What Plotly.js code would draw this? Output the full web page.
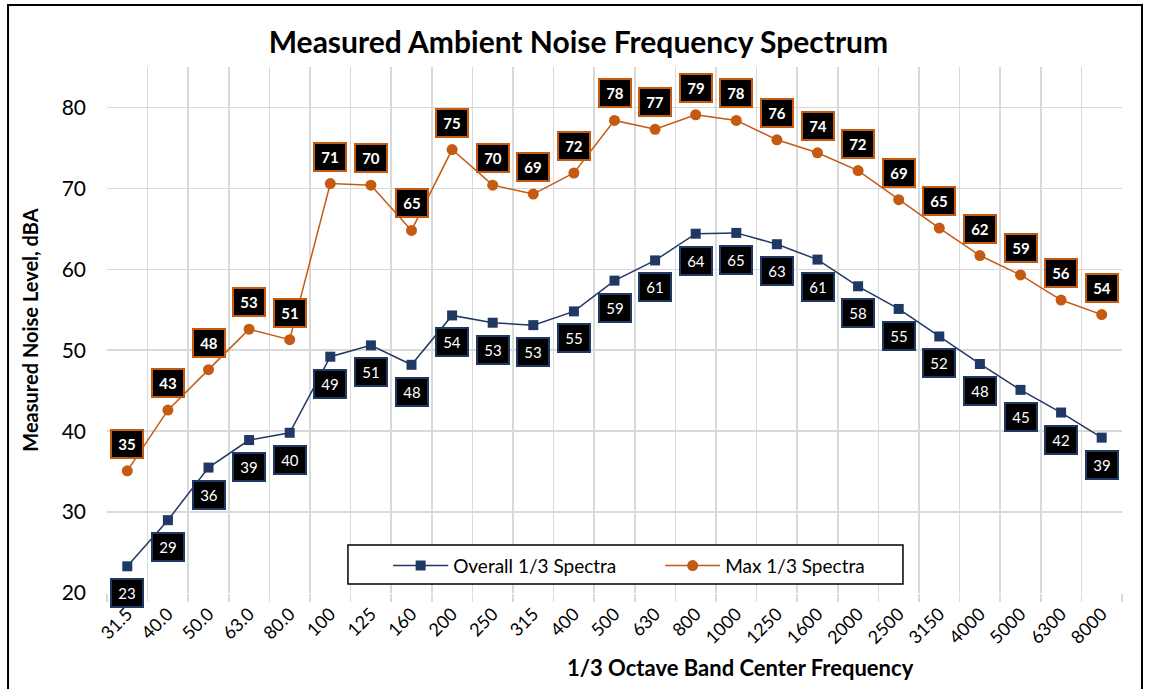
<!DOCTYPE html>
<html>
<head>
<meta charset="utf-8">
<script src="https://cdn.plot.ly/plotly-3.0.1.min.js"></script>
<style>html,body{margin:0;padding:0;background:#fff;}#chart{width:1150px;height:689px;}</style>
</head>
<body>
<div id="chart"></div>
<script>
const frequencies = ["31.5","40.0","50.0","63.0","80.0","100","125","160","200","250","315","400","500","630","800","1000","1250","1600","2000","2500","3150","4000","5000","6300","8000"];
const overallSpectra = [23.3,29.0,35.5,38.9,39.8,49.2,50.6,48.2,54.3,53.4,53.1,54.8,58.6,61.1,64.4,64.5,63.1,61.2,57.9,55.1,51.7,48.3,45.1,42.3,39.2];
const maxSpectra = [35.1,42.6,47.6,52.6,51.3,70.6,70.4,64.8,74.8,70.4,69.3,71.9,78.4,77.3,79.1,78.4,76.0,74.4,72.2,68.6,65.1,61.7,59.3,56.2,54.4];
const seriesNames = ["Overall 1/3 Spectra","Max 1/3 Spectra"];

const navy = "#203864";
const orange = "#C55A11";
const fontFam = "Lato, 'Open Sans', sans-serif";

const traces = [
  {x: frequencies, y: overallSpectra, name: seriesNames[0], type: "scatter", mode: "lines+markers",
   line: {color: navy, width: 1.5}, marker: {symbol: "square", size: 10, color: navy}},
  {x: frequencies, y: maxSpectra, name: seriesNames[1], type: "scatter", mode: "lines+markers",
   line: {color: orange, width: 1.5}, marker: {symbol: "circle", size: 11, color: orange}}
];

const annotations = [];
frequencies.forEach((f, i) => {
  annotations.push({x: i, y: overallSpectra[i], xref: "x", yref: "y", text: String(Math.round(overallSpectra[i])),
    showarrow: false, yshift: -27, bgcolor: "#000", bordercolor: navy, borderwidth: 2,
    width: 28, height: 24, font: {family: fontFam, size: 15, color: "#fff"}});
  annotations.push({x: i, y: maxSpectra[i], xref: "x", yref: "y", text: "<b>" + Math.round(maxSpectra[i]) + "</b>",
    showarrow: false, yshift: 27, bgcolor: "#000", bordercolor: orange, borderwidth: 2,
    width: 28, height: 24, font: {family: fontFam, size: 15, color: "#fff"}});
});
annotations.push({xref: "paper", yref: "paper", x: 0.624, y: -0.142, yanchor: "middle", xanchor: "center",
  text: "<b>1/3 Octave Band Center Frequency</b>", showarrow: false, font: {family: fontFam, size: 22, color: "#000"}});

const layout = {
  width: 1150, height: 689,
  margin: {l: 107, r: 28, t: 67, b: 96},
  paper_bgcolor: "#fff", plot_bgcolor: "#fff",
  font: {family: fontFam, color: "#000"},
  title: {text: "<b>Measured Ambient Noise Frequency Spectrum</b>", x: 0.503, xanchor: "center", y: 0.938, yanchor: "middle",
    font: {family: fontFam, size: 30, color: "#000"}},
  xaxis: {type: "category", range: [-0.5, 24.5], tickson: "boundaries", ticks: "outside", ticklen: 8, tickcolor: "#d9d9d9", tickwidth: 1.5,
    showgrid: true, gridcolor: "#d9d9d9", gridwidth: 1.5, tickangle: -45, tickfont: {family: fontFam, size: 18, color: "#000"},
    ticklabelstandoff: 6, showline: false, zeroline: false, fixedrange: true},
  yaxis: {range: [20, 85], dtick: 10, tick0: 0, showgrid: true, gridcolor: "#d9d9d9", gridwidth: 1.5,
    tickfont: {family: fontFam, size: 21, color: "#000"}, ticks: "", ticklabelstandoff: 20, zeroline: false, showline: false,
    title: {text: "<b>Measured Noise Level, dBA</b>", font: {family: fontFam, size: 20, color: "#000"}, standoff: 17}},
  legend: {orientation: "h", x: 0.277, y: 0.088, xanchor: "left", yanchor: "top", bgcolor: "rgba(0,0,0,0)", borderwidth: 0,
    font: {family: fontFam, size: 19, color: "#000"}, entrywidth: 202, itemwidth: 55, tracegroupgap: 0},
  annotations: annotations,
  shapes: [
    {type: "rect", xref: "paper", yref: "paper", x0: -0.0975, x1: 1.0197, y0: -0.2, y1: 1.118, line: {color: "#000", width: 2}},
    {type: "rect", xref: "paper", yref: "paper", x0: 0.2374, x1: 0.7842, y0: 0.0171, y1: 0.0913, fillcolor: "#fff", layer: "above", line: {color: "#000", width: 1.5}}
  ],
  showlegend: true
};

Plotly.newPlot("chart", traces, layout, {displayModeBar: false, staticPlot: true});
</script>
</body>
</html>
